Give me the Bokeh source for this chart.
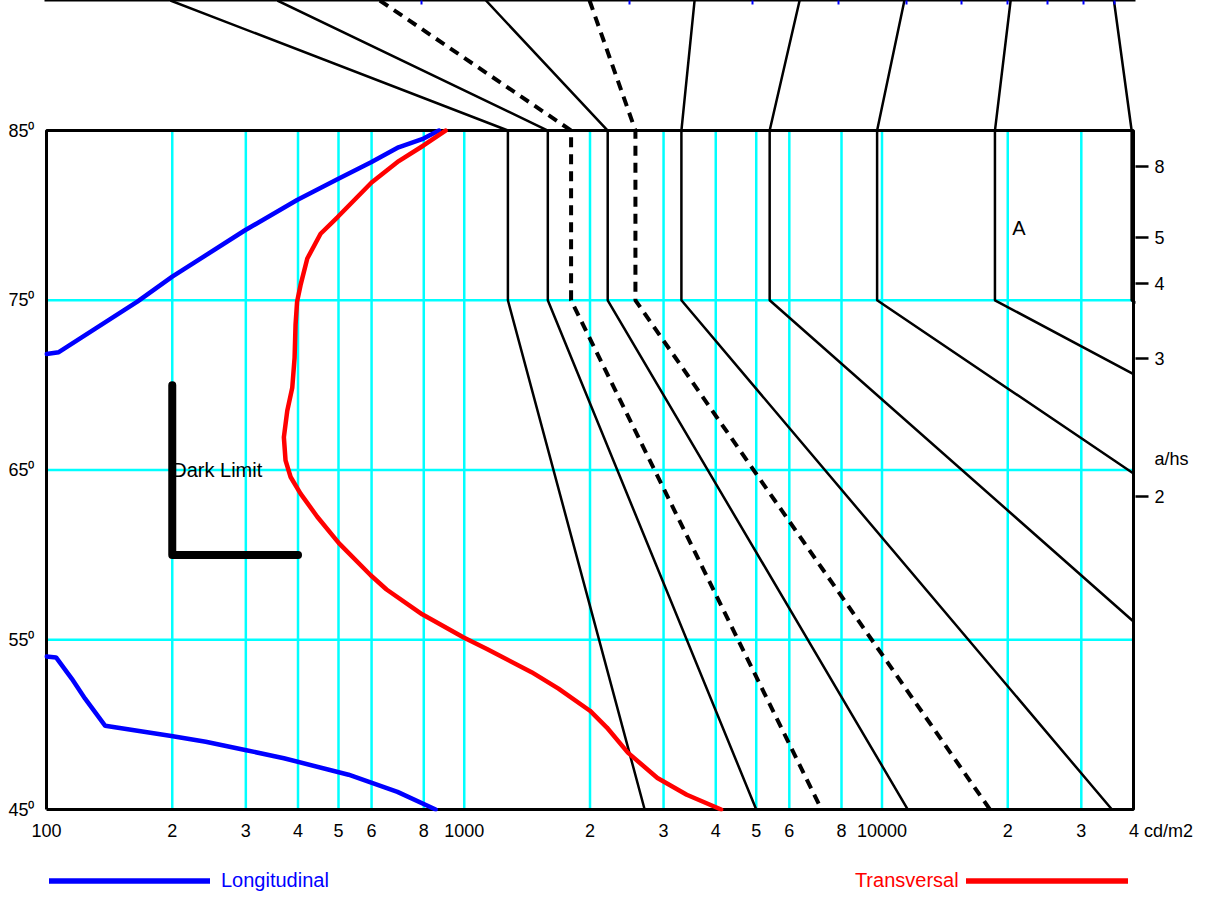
import math
from bokeh.plotting import figure
from bokeh.layouts import column
from bokeh.models import Range1d, FixedTicker, LinearAxis, Label, Legend, LegendItem
from bokeh.embed import file_html
from bokeh.resources import INLINE

# ---------------- data ----------------
x_ticks = [100, 200, 300, 400, 500, 600, 800, 1000, 2000, 3000, 4000, 5000, 6000, 8000,
           10000, 20000, 30000, 40000]
x_tick_labels = ["100", "2", "3", "4", "5", "6", "8", "1000", "2", "3", "4", "5", "6", "8",
                 "10000", "2", "3", "4 cd/m2"]
x_grid = [200, 300, 400, 500, 600, 800, 1000, 2000, 3000, 4000, 5000, 6000, 8000,
          10000, 20000, 30000]
y_ticks = [45, 55, 65, 75, 85]
y_tick_labels = ["45⁰", "55⁰", "65⁰", "75⁰", "85⁰"]
y_grid = [55, 65, 75]
ahs_values = [8, 5, 4, 3, 2]
ahs_labels = ["8", "5", "4", "3", "2"]
ahs_title = "a/hs"
ahs_title_at = 65.64

# Longitudinal (two branches)
long_upper_x = [100, 107, 165, 200, 298, 398, 497, 600, 696, 799, 870]
long_upper_y = [71.84, 71.94, 74.92, 76.39, 79.11, 80.91, 82.13, 83.15, 84.01, 84.53, 85.0]
long_lower_x = [100, 105.4, 115, 123.7, 138.2, 199, 240.5, 298.8, 370, 528.5, 692, 854]
long_lower_y = [54.02, 53.96, 52.70, 51.53, 49.93, 49.33, 48.99, 48.51, 48.02, 47.05, 46.04, 45.0]

# Transversal
trans_x = [902, 799, 697, 600, 497, 453, 421, 405.6, 398, 394.6, 392.5, 387.5, 377, 370,
           373.4, 384, 405.6, 444.7, 501, 597, 651.6, 793, 997, 1133, 1449, 1681, 1999,
           2195, 2464, 2900, 3409, 4120]
trans_y = [85.0, 84.12, 83.20, 81.94, 79.89, 78.92, 77.46, 75.89, 74.92, 73.56, 71.61, 69.85,
           68.49, 66.93, 65.57, 64.59, 63.61, 62.25, 60.69, 58.8, 57.96, 56.50, 55.13, 54.46,
           53.09, 52.12, 50.82, 49.83, 48.35, 46.86, 45.87, 45.0]

# a/hs lines: upper end, vertical part (85..75 deg), lower end
ahs_top_x = [198, 357, 628, 1127, 1995, 3559, 6350, 11315, 20320, 35910]
ahs_top_y = 92.66
ahs_mid_x = [1272, 1585, 1802, 2205, 2569, 3310, 5384, 9734, 18637, 39590]
ahs_mid_y = [85, 75]
ahs_end_x = [2703, 5000, 7164, 11530, 18130, 35520, 40000, 40000, 40000, 46450]
ahs_end_y = [45, 45, 45, 45, 45, 45, 56.08, 64.80, 70.65, 74.06]
ahs_dashed = [2, 4]

dark_limit_x = [200, 200, 400]
dark_limit_y = [70, 60, 60]

box_x = [100, 40000, 40000, 100, 100]
box_y = [45, 45, 85, 85, 45]

top_ticks = [1, 2, 3, 4, 5, 6, 7, 8, 9, 10]

FONT = "Liberation Sans"
TICK_FS = "18px"
TEXT_FS = "20px"
NBSP = "\u00a0"

# ---------------- main figure ----------------
xr = Range1d(98.9, 40443)
p = figure(width=1198, height=843, x_axis_type="log",
           x_range=xr, y_range=Range1d(44.883, 92.661),
           output_backend="svg", toolbar_location=None,
           min_border_left=44, min_border_right=63, min_border_top=0, min_border_bottom=26)
p.outline_line_color = None
p.grid.visible = False

# bottom axis (last label padded so that "4" stays centred on its tick)
overrides = {t: l for t, l in zip(x_ticks, x_tick_labels)}
overrides[x_ticks[-1]] = NBSP * 11 + x_tick_labels[-1]
xa = p.xaxis[0]
xa.ticker = FixedTicker(ticks=x_ticks)
xa.major_label_overrides = overrides
xa.axis_line_color = None
xa.major_tick_line_color = None
xa.minor_tick_line_color = None
xa.major_label_standoff = 3
xa.major_label_text_font = FONT
xa.major_label_text_font_size = TICK_FS
xa.major_label_text_color = "black"

# left axis
ya = p.yaxis[0]
ya.ticker = FixedTicker(ticks=y_ticks)
ya.major_label_overrides = {t: l for t, l in zip(y_ticks, y_tick_labels)}
ya.axis_line_color = None
ya.major_tick_line_color = None
ya.minor_tick_line_color = None
ya.major_label_standoff = 4
ya.major_label_text_font = FONT
ya.major_label_text_font_size = TICK_FS
ya.major_label_text_color = "black"

# right axis: a/hs = tan(angle); marks drawn as minor ticks, the name as an extra label
ahs_pos = [math.degrees(math.atan(v)) for v in ahs_values]
r_overrides = {t: l for t, l in zip(ahs_pos, ahs_labels)}
r_overrides[ahs_title_at] = ahs_title
ra = LinearAxis(ticker=FixedTicker(ticks=ahs_pos + [ahs_title_at], minor_ticks=ahs_pos),
                major_label_overrides=r_overrides,
                axis_line_color=None,
                major_tick_in=0, major_tick_out=13, major_tick_line_color=None,
                minor_tick_in=0, minor_tick_out=13, minor_tick_line_width=2.5,
                minor_tick_line_color="black",
                major_label_standoff=6,
                major_label_text_font=FONT, major_label_text_font_size=TICK_FS,
                major_label_text_color="black")
p.add_layout(ra, "right")

# top border line with small blue ticks
p.extra_x_ranges = {"top": Range1d(0.2865, 10.707)}
ta = LinearAxis(x_range_name="top", ticker=FixedTicker(ticks=top_ticks),
                major_label_overrides={t: "" for t in top_ticks},
                major_label_text_font_size="0px", major_label_standoff=0,
                major_tick_in=4, major_tick_out=0, major_tick_line_color="blue",
                major_tick_line_width=2, minor_tick_line_color=None,
                axis_line_color="black", axis_line_width=2)
p.add_layout(ta, "above")

# cyan grid inside the box
p.segment(x0=x_grid, y0=[45] * len(x_grid), x1=x_grid, y1=[85] * len(x_grid),
          line_color="#00FFFF", line_width=2.5)
p.segment(x0=[100] * len(y_grid), y0=y_grid, x1=[40000] * len(y_grid), y1=y_grid,
          line_color="#00FFFF", line_width=2.5)

# a/hs lines
solid_xs, solid_ys, dash_xs, dash_ys = [], [], [], []
for i in range(len(ahs_mid_x)):
    xs = [ahs_top_x[i], ahs_mid_x[i], ahs_mid_x[i], ahs_end_x[i]]
    ys = [ahs_top_y, ahs_mid_y[0], ahs_mid_y[1], ahs_end_y[i]]
    if i in ahs_dashed:
        dash_xs.append(xs); dash_ys.append(ys)
    else:
        solid_xs.append(xs); solid_ys.append(ys)
p.multi_line(xs=solid_xs, ys=solid_ys, line_color="black", line_width=2.5)
p.multi_line(xs=dash_xs, ys=dash_ys, line_color="black", line_width=4, line_dash="10 7")

# box
p.line(box_x, box_y, line_color="black", line_width=3)

# curves
p.multi_line(xs=[long_upper_x, long_lower_x], ys=[long_upper_y, long_lower_y],
             line_color="blue", line_width=4.5, line_cap="round")
p.line(trans_x, trans_y, line_color="red", line_width=4.5, line_cap="round")

# dark limit
p.line(dark_limit_x, dark_limit_y, line_color="black", line_width=8,
       line_cap="round", line_join="round")

p.add_layout(Label(x=200, y=65.0, text="Dark Limit", text_font=FONT,
                   text_font_size=TEXT_FS, text_baseline="middle", text_color="black"))
p.add_layout(Label(x=20500, y=79.27, text="A", text_font=FONT,
                   text_font_size=TEXT_FS, text_baseline="middle", text_color="black"))

# ---------------- legend row (same x scale, curves kept out of view) ----------------
leg = figure(width=1198, height=48, x_axis_type="log", x_range=xr,
             y_range=Range1d(0, 1), x_axis_location=None, y_axis_location=None,
             output_backend="svg", toolbar_location=None, min_border=0)
leg.outline_line_color = None
leg.grid.visible = False
blue_key = leg.multi_line(xs=[long_upper_x, long_lower_x], ys=[long_upper_y, long_lower_y],
                          line_color="blue", line_width=5.5, line_cap="round")
red_key = leg.line(trans_x, trans_y, line_color="red", line_width=5.5, line_cap="round")

common = dict(glyph_height=23, label_height=23, padding=0, margin=0,
              border_line_color=None, background_fill_alpha=0,
              label_text_font=FONT, label_text_font_size=TEXT_FS)
leg.add_layout(Legend(items=[LegendItem(label="Longitudinal", renderers=[blue_key])],
                      location=(5, -1), glyph_width=161, label_standoff=11,
                      label_text_color="blue", **common))
leg.add_layout(Legend(items=[LegendItem(label="", renderers=[red_key])],
                      location=(922, -1), glyph_width=162, label_standoff=0,
                      label_width=0, **common))
leg.add_layout(Label(x=15255, y=0.23, text="Transversal", text_align="right",
                     text_baseline="middle", text_color="red", text_font=FONT,
                     text_font_size=TEXT_FS))

open("out.html", "w").write(file_html(column(p, leg), INLINE))
